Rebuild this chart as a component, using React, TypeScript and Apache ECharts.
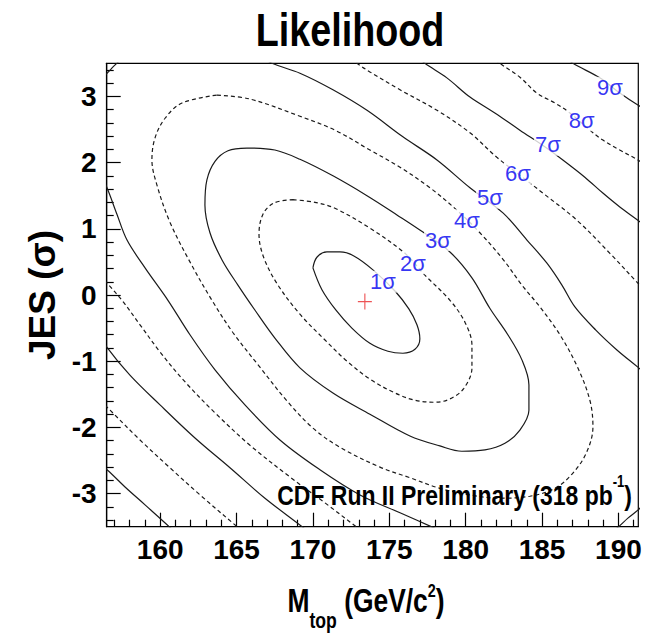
import React, { useEffect, useRef } from 'react';
import * as echarts from 'echarts';

// ---- axes ----
const xRange = [156.5, 191.3];
const yRange = [-3.5, 3.5];
const xMajorTicks = [160, 165, 170, 175, 180, 185, 190];
const xMinorTicks = [157, 158, 159, 161, 162, 163, 164, 166, 167, 168, 169, 171, 172, 173, 174, 176, 177, 178, 179, 181, 182, 183, 184, 186, 187, 188, 189, 191];
const yMajorTicks = [-3, -2, -1, 0, 1, 2, 3];
const yMinorTicks = [-3.4, -3.2, -2.8, -2.6, -2.4, -2.2, -1.8, -1.6, -1.4, -1.2, -0.8, -0.6, -0.4, -0.2, 0.2, 0.4, 0.6, 0.8, 1.2, 1.4, 1.6, 1.8, 2.2, 2.4, 2.6, 2.8, 3.2, 3.4];

// ---- best fit point ----
const bestFit = [173.4, -0.1];

// ---- contour lines (M_top, JES); each contour is a list of pieces ----
const sigma1 = [[[170.0, 0.41], [170.26, 0.57], [170.92, 0.65], [171.77, 0.65], [172.68, 0.59], [173.93, 0.38], [175.37, 0.06], [176.28, -0.21], [176.81, -0.45], [177.0, -0.66], [176.68, -0.82], [175.89, -0.88], [174.91, -0.85], [173.73, -0.73], [172.55, -0.5], [171.51, -0.23], [170.59, 0.08], [170.0, 0.41]]];
const sigma2 = [[[168.69, 1.44], [170.13, 1.4], [171.44, 1.31], [173.73, 1.01], [176.02, 0.63], [177.33, 0.3], [178.97, -0.08], [179.95, -0.41], [180.41, -0.76], [180.41, -1.1], [179.88, -1.41], [178.97, -1.57], [177.99, -1.62], [176.68, -1.59], [175.37, -1.48], [173.73, -1.27], [172.23, -1.0], [170.79, -0.68], [169.15, -0.29], [167.71, 0.15], [166.79, 0.56], [166.47, 0.92], [166.73, 1.22], [167.45, 1.39], [168.69, 1.44]]];
const sigma3 = [[[165.68, 2.22], [167.51, 2.19], [169.15, 2.05], [171.31, 1.8], [173.54, 1.5], [175.5, 1.21], [177.2, 0.95], [178.97, 0.65], [180.41, 0.26], [181.58, -0.2], [182.76, -0.6], [183.68, -0.98], [184.14, -1.36], [184.14, -1.74], [183.55, -2.04], [182.57, -2.24], [181.26, -2.34], [179.75, -2.36], [178.31, -2.28], [176.35, -2.13], [173.73, -1.8], [171.31, -1.48], [169.15, -1.1], [167.51, -0.65], [166.21, -0.23], [165.09, 0.15], [164.05, 0.53], [163.26, 0.94], [162.93, 1.36], [163.06, 1.74], [163.59, 2.02], [164.44, 2.18], [165.68, 2.22]]];
const sigma4 = [[[163.72, 3.02], [165.88, 2.96], [169.15, 2.7], [171.44, 2.49], [173.73, 2.19], [175.7, 1.93], [177.66, 1.62], [179.43, 1.28], [180.93, 0.94], [182.44, 0.54], [183.68, 0.15], [184.86, -0.18], [186.17, -0.6], [187.34, -1.1], [188.13, -1.59], [188.33, -1.99], [187.93, -2.37], [187.02, -2.69], [185.84, -2.92], [184.2, -3.04], [182.24, -3.07], [180.28, -3.02], [178.31, -2.92], [176.35, -2.76], [174.39, -2.6], [171.77, -2.3], [170.0, -2.01], [168.3, -1.6], [166.53, -1.09], [164.77, -0.57], [163.39, -0.08], [161.95, 0.5], [160.64, 1.1], [159.79, 1.66], [159.46, 2.04], [159.66, 2.37], [160.32, 2.67], [161.43, 2.9], [163.72, 3.02]]];
const sigma5 = [
  [[156.19, 3.28], [156.52, 3.35], [156.98, 3.46], [157.44, 3.56]],
  [[166.66, 3.6], [167.32, 3.5], [169.15, 3.35], [171.31, 3.1], [173.54, 2.79], [175.89, 2.39], [178.12, 2.04], [180.28, 1.62], [182.44, 1.24], [184.01, 0.83], [185.32, 0.48], [186.3, 0.15], [187.15, -0.18], [188.52, -0.53], [189.9, -0.83], [191.27, -1.09], [191.93, -1.22]],
  [[191.73, -3.14], [191.27, -3.25], [190.62, -3.37], [189.96, -3.51], [189.44, -3.6]],
  [[156.19, 1.77], [156.52, 1.62], [157.17, 1.22], [157.83, 0.83], [159.01, 0.41], [160.51, -0.08], [161.95, -0.6], [163.59, -1.13], [165.55, -1.66], [167.84, -2.19], [170.46, -2.64], [173.08, -3.02], [175.7, -3.29], [177.85, -3.51], [178.97, -3.63]],
];
const sigma6 = [
  [[156.06, 0.3], [156.52, 0.18], [157.5, -0.08], [158.68, -0.45], [159.99, -0.86], [161.62, -1.31], [163.59, -1.78], [165.88, -2.27], [168.5, -2.75], [170.79, -3.14], [172.88, -3.51], [173.73, -3.66]],
  [[172.1, 3.63], [172.88, 3.5], [173.73, 3.37], [175.7, 3.1], [178.12, 2.79], [180.28, 2.45], [182.04, 2.08], [183.55, 1.81], [185.05, 1.54], [187.28, 1.13], [189.44, 0.63], [191.27, 0.18], [191.93, 0.03]],
];
const sigma7 = [
  [[156.06, -0.6], [156.52, -0.79], [158.02, -1.21], [159.99, -1.66], [162.28, -2.16], [164.57, -2.61], [166.86, -3.07], [169.35, -3.51], [170.13, -3.66]],
  [[176.68, 3.63], [177.33, 3.5], [178.77, 3.28], [180.28, 2.99], [181.91, 2.75], [183.55, 2.49], [185.18, 2.24], [186.36, 2.04], [187.8, 1.78], [188.98, 1.54], [190.09, 1.33], [191.27, 1.13], [192.06, 0.99]],
];
const sigma8 = [
  [[156.06, -1.59], [156.72, -1.74], [158.68, -2.19], [160.64, -2.61], [162.61, -3.02], [165.09, -3.51], [165.88, -3.66]],
  [[181.59, 3.63], [182.24, 3.5], [183.55, 3.29], [184.66, 3.05], [185.84, 2.9], [186.82, 2.75], [188.13, 2.49], [188.98, 2.34], [190.09, 2.19], [191.27, 2.04], [192.06, 1.92]],
];
const sigma9 = [
  [[156.06, -2.57], [156.52, -2.64], [157.7, -2.9], [159.01, -3.17], [160.64, -3.51], [161.3, -3.66]],
  [[186.49, 3.6], [187.02, 3.5], [188.78, 3.28], [190.09, 3.05], [191.27, 2.87], [192.06, 2.78]],
];
const contours = [sigma1, sigma2, sigma3, sigma4, sigma5, sigma6, sigma7, sigma8, sigma9];
const contourLevels = [1, 2, 3, 4, 5, 6, 7, 8, 9];

// ---- contour labels ----
const sigmaLabels = ['1σ', '2σ', '3σ', '4σ', '5σ', '6σ', '7σ', '8σ', '9σ'];
const sigmaLabelPositions = [[174.58, 0.2], [176.55, 0.48], [178.18, 0.83], [180.08, 1.13], [181.58, 1.47], [183.42, 1.84], [185.38, 2.27], [187.6, 2.64], [189.44, 3.13]];

const FONT = "'Liberation Sans', Arial, Helvetica, sans-serif";

export default function App() {
  const ref = useRef<HTMLDivElement>(null);
  useEffect(() => {
    if (!ref.current) return;
    const chart = echarts.init(ref.current, undefined, { renderer: 'svg' });
    const lineSeries: any[] = [];
    contours.forEach((pieces, i) => {
      const level = contourLevels[i];
      pieces.forEach((piece) => {
        lineSeries.push({
          type: 'line',
          data: piece,
          smooth: 0.35,
          symbol: 'none',
          clip: true,
          silent: true,
          z: 2,
          lineStyle: {
            color: '#1a1a1a',
            width: 1.2,
            type: level % 2 === 0 ? [4, 3] : 'solid',
          },
        });
      });
    });
    const tickLine = { color: '#000', width: 1.2 };
    const option: any = {
      animation: false,
      backgroundColor: '#fff',
      grid: {
        left: 106.7,
        top: 63.3,
        width: 531.6,
        height: 463.4,
        show: true,
        borderColor: '#000',
        borderWidth: 1.2,
        backgroundColor: 'transparent',
      },
      xAxis: [
        {
          type: 'value',
          min: xRange[0],
          max: xRange[1],
          position: 'bottom',
          axisLine: { show: true, onZero: false, lineStyle: tickLine },
          axisTick: { show: true, inside: true, length: 14, customValues: xMajorTicks, lineStyle: tickLine },
          axisLabel: { show: true, customValues: xMajorTicks, margin: 9, fontSize: 28, fontWeight: 'bold', fontFamily: FONT, color: '#000' },
          splitLine: { show: false },
        },
        {
          type: 'value',
          min: xRange[0],
          max: xRange[1],
          position: 'bottom',
          axisLine: { show: false, onZero: false },
          axisTick: { show: true, inside: true, length: 7, customValues: xMinorTicks, lineStyle: tickLine },
          axisLabel: { show: false },
          splitLine: { show: false },
        },
      ],
      yAxis: [
        {
          type: 'value',
          min: yRange[0],
          max: yRange[1],
          position: 'left',
          axisLine: { show: true, onZero: false, lineStyle: tickLine },
          axisTick: { show: true, inside: true, length: 14, customValues: yMajorTicks, lineStyle: tickLine },
          axisLabel: { show: true, customValues: yMajorTicks, margin: 10, fontSize: 28, fontWeight: 'bold', fontFamily: FONT, color: '#000' },
          splitLine: { show: false },
          name: 'JES (σ)',
          nameLocation: 'middle',
          nameRotate: 90,
          nameGap: 46,
          nameTextStyle: { fontSize: 37, fontWeight: 'bold', fontFamily: FONT, color: '#000' },
        },
        {
          type: 'value',
          min: yRange[0],
          max: yRange[1],
          position: 'left',
          axisLine: { show: false, onZero: false },
          axisTick: { show: true, inside: true, length: 7, customValues: yMinorTicks, lineStyle: tickLine },
          axisLabel: { show: false },
          splitLine: { show: false },
        },
      ],
      graphic: [
        {
          type: 'text',
          x: 350,
          y: 30,
          scaleX: 0.82,
          z: 10,
          style: {
            text: 'Likelihood',
            align: 'center',
            verticalAlign: 'middle',
            fontSize: 46,
            fontWeight: 'bold',
            fontFamily: FONT,
            fill: '#000',
          },
        },
        {
          type: 'text',
          x: 366,
          y: 600,
          scaleX: 0.8,
          z: 10,
          style: {
            text: '{b|M}{s|top}{b| (GeV/c}{p|2}{b|)}',
            align: 'center',
            verticalAlign: 'middle',
            rich: {
              b: { fontSize: 33, fontWeight: 'bold', fontFamily: FONT, fill: '#000' },
              s: { fontSize: 22, fontWeight: 'bold', fontFamily: FONT, fill: '#000', padding: [40, 0, 0, 0] },
              p: { fontSize: 18, fontWeight: 'bold', fontFamily: FONT, fill: '#000', padding: [0, 0, 20, 0] },
            },
          },
        },
        {
          type: 'text',
          x: 632,
          y: 495,
          scaleX: 0.82,
          z: 10,
          style: {
            text: '{m|CDF Run II Preliminary (318 pb}{p|-1}{m|)}',
            align: 'right',
            verticalAlign: 'middle',
            rich: {
              m: { fontSize: 28, fontWeight: 'bold', fontFamily: FONT, fill: '#000' },
              p: { fontSize: 16, fontWeight: 'bold', fontFamily: FONT, fill: '#000', padding: [0, 0, 26, 0] },
            },
          },
        },
      ],
      series: [
        ...lineSeries,
        {
          type: 'scatter',
          data: [bestFit],
          symbol: 'path://M0,8L16,8M8,0L8,16',
          symbolSize: [14, 16],
          silent: true,
          z: 4,
          itemStyle: { color: 'rgba(0,0,0,0)', borderColor: '#e8282b', borderWidth: 1.2 },
        },
        {
          type: 'scatter',
          data: sigmaLabelPositions.map((p, i) => ({ value: p, name: sigmaLabels[i] })),
          symbolSize: 1,
          silent: true,
          z: 5,
          itemStyle: { color: 'rgba(0,0,0,0)' },
          label: {
            show: true,
            position: 'inside',
            formatter: '{b}',
            color: '#0000f0',
            fontSize: 22,
            fontFamily: FONT,
            backgroundColor: '#fff',
            padding: [0, 1],
          },
        },
      ],
    };
    chart.setOption(option);
    return () => chart.dispose();
  }, []);
  return <div ref={ref} style={{ position: 'fixed', left: 0, top: 0, width: 646, height: 634 }} />;
}
